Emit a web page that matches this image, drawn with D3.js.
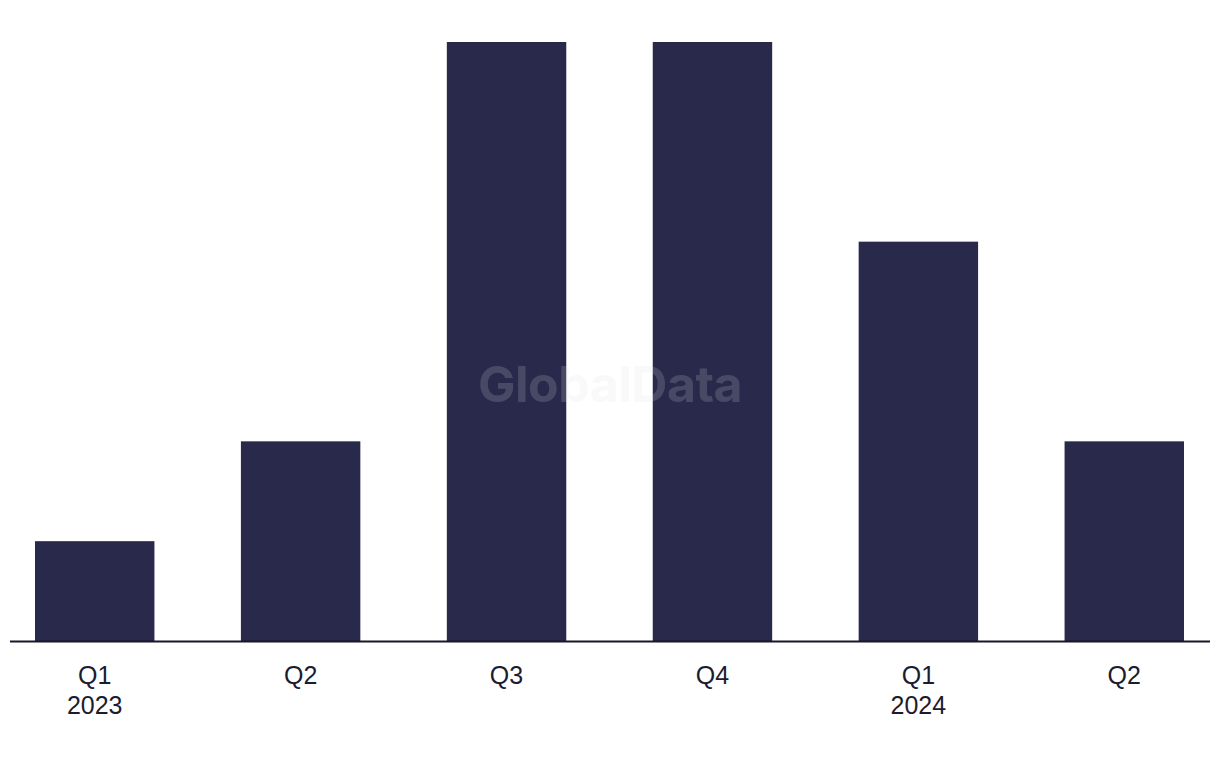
<!DOCTYPE html>
<html><head><meta charset="utf-8">
<script src="https://cdn.jsdelivr.net/npm/d3@7"></script>
<style>body{margin:0;background:#fff}svg{display:block}</style>
</head><body><svg id="c" width="1220" height="768"></svg>
<script>
const quarters = ["Q1", "Q2", "Q3", "Q4", "Q1", "Q2"];
const years = ["2023", "", "", "", "2024", ""];
const values = [1, 2, 6, 6, 4, 2];

const svg = d3.select("#c");
const x = d3.scaleBand().domain(d3.range(values.length)).range([35, 1184]).paddingInner(0.42).paddingOuter(0);
const y = d3.scaleLinear().domain([0, 6]).range([641, 42]);

svg.selectAll("rect.bar").data(values).enter().append("rect")
  .attr("class", "bar")
  .attr("x", (d, i) => x(i)).attr("width", x.bandwidth())
  .attr("y", d => y(d)).attr("height", d => y(0) - y(d))
  .attr("fill", "#29294b");

svg.append("text").attr("x", 610).attr("y", 402).attr("text-anchor", "middle")
  .attr("font-family", "Inter, 'Noto Sans', sans-serif").attr("font-weight", 700)
  .attr("font-size", 50).attr("fill", "#dcdce4").attr("fill-opacity", 0.18)
  .attr("letter-spacing", -0.5)
  .text("GlobalData");

svg.append("line").attr("x1", 10).attr("x2", 1210).attr("y1", y(0) + 0.5).attr("y2", y(0) + 0.5)
  .attr("stroke", "#171728").attr("stroke-width", 2);

const g = svg.append("g").attr("font-family", "'Liberation Sans', Arial, sans-serif").attr("font-size", 25).attr("fill", "#1c1c30").attr("text-anchor", "middle");
g.selectAll("text.q").data(quarters).enter().append("text").attr("class", "q")
  .attr("x", (d, i) => x(i) + x.bandwidth() / 2).attr("y", 684).text(d => d);
g.selectAll("text.y").data(years).enter().append("text").attr("class", "y")
  .attr("x", (d, i) => x(i) + x.bandwidth() / 2).attr("y", 714).text(d => d);
</script></body></html>
